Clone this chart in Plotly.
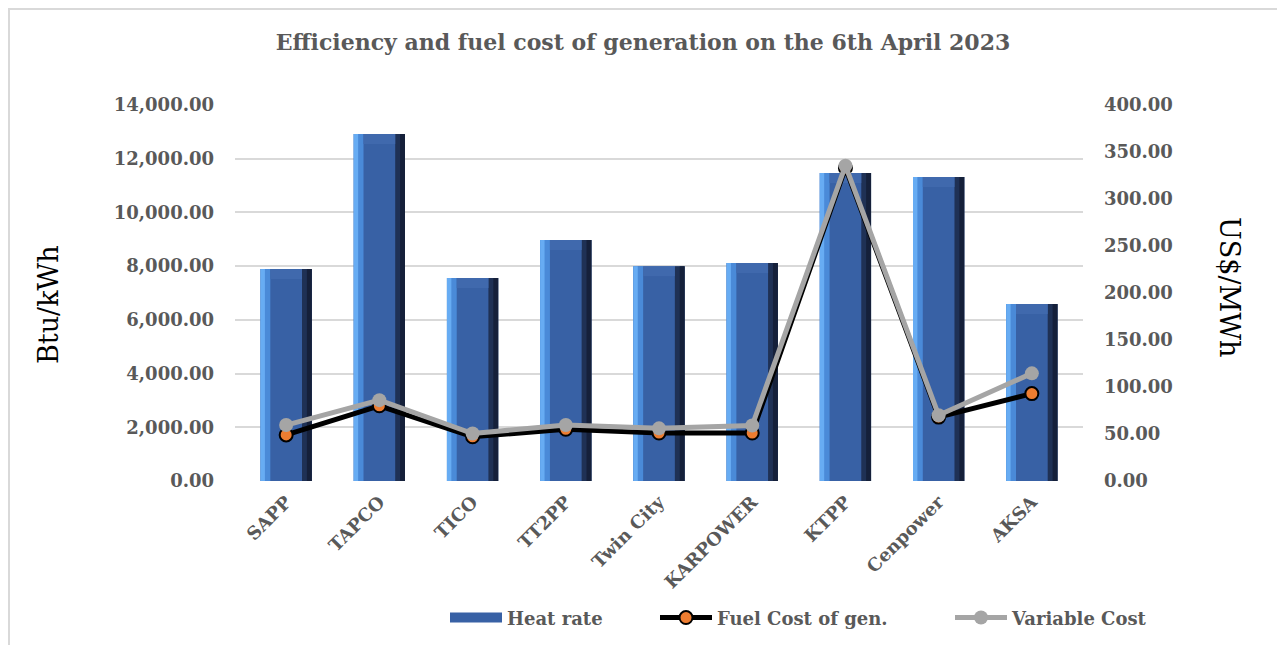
import plotly.graph_objects as go
from plotly.subplots import make_subplots

# ---- data ----
plants = ["SAPP", "TAPCO", "TICO", "TT2PP", "Twin City", "KARPOWER", "KTPP", "Cenpower", "AKSA"]
heat_rate = [7890, 12920, 7560, 8970, 8000, 8120, 11470, 11320, 6590]          # Btu/kWh
fuel_cost = [49.0, 80.0, 47.0, 55.0, 51.0, 51.0, 333.0, 68.0, 93.0]            # US$/MWh
variable_cost = [59.5, 86.0, 50.5, 59.5, 56.0, 59.0, 335.5, 70.0, 114.5]       # US$/MWh
left_ticks = [0, 2000, 4000, 6000, 8000, 10000, 12000, 14000]
right_ticks = [0, 50, 100, 150, 200, 250, 300, 350, 400]

GRAY = "#595959"
SERIF = "DejaVu Serif"
TICKFONT = dict(family=SERIF, size=18, color=GRAY, weight="bold")
LEGFONT = dict(family=SERIF, size=18, color=GRAY, weight="bold")

fig = make_subplots(specs=[[{"secondary_y": True}]])

W = 0.55       # bar width (category units)
S = 0.105      # bevel strip width
# base bar (medium blue)
fig.add_trace(go.Bar(x=plants, y=heat_rate, width=W, name="Heat rate",
                     marker=dict(color="#3861a5", line=dict(width=0)),
                     showlegend=False), secondary_y=False)
# left light strips (gradient)
fig.add_trace(go.Bar(x=plants, y=heat_rate, width=S, offset=-W / 2,
                     marker=dict(color="#4a8ad8", line=dict(width=0)),
                     showlegend=False, hoverinfo="skip"), secondary_y=False)
fig.add_trace(go.Bar(x=plants, y=heat_rate, width=S * 0.45, offset=-W / 2,
                     marker=dict(color="#67acf3", line=dict(width=0)),
                     showlegend=False, hoverinfo="skip"), secondary_y=False)
# right dark strips
fig.add_trace(go.Bar(x=plants, y=heat_rate, width=S, offset=W / 2 - S,
                     marker=dict(color="#1f3155", line=dict(width=0)),
                     showlegend=False, hoverinfo="skip"), secondary_y=False)
fig.add_trace(go.Bar(x=plants, y=heat_rate, width=S * 0.5, offset=W / 2 - S * 0.5,
                     marker=dict(color="#15203a", line=dict(width=0)),
                     showlegend=False, hoverinfo="skip"), secondary_y=False)
# top bevel (slightly lighter band)
bev = left_ticks[-1] * 10 / 376
fig.add_trace(go.Bar(x=plants, y=[bev] * len(plants), base=[v - bev for v in heat_rate],
                     width=W - 2 * S, offset=-W / 2 + S,
                     marker=dict(color="#4069ad", line=dict(width=0)),
                     showlegend=False, hoverinfo="skip"), secondary_y=False)

# legend entry for the bars (wide blue swatch)
fig.add_trace(go.Scatter(x=[None], y=[None], mode="lines", name="Heat rate",
                         line=dict(color="#3861a5", width=15), hoverinfo="skip",
                         legend="legend"),
              secondary_y=False)

# lines
fig.add_trace(go.Scatter(x=plants, y=fuel_cost, name="Fuel Cost of gen.", mode="lines+markers",
                         line=dict(color="black", width=5),
                         marker=dict(size=13, color="#ed7d31", line=dict(color="black", width=2)),
                         legend="legend2"),
              secondary_y=True)
fig.add_trace(go.Scatter(x=plants, y=variable_cost, name="Variable Cost", mode="lines+markers",
                         line=dict(color="#a5a5a5", width=5),
                         marker=dict(size=14, color="#a5a5a5"),
                         legend="legend3"),
              secondary_y=True)

def leg(px):
    return dict(orientation="h", x=(px - 240) / 848, xanchor="left", y=-0.364, yanchor="middle",
                font=LEGFONT, itemwidth=52, bgcolor="rgba(0,0,0,0)")

fig.update_layout(
    width=1277, height=637,
    margin=dict(l=227, r=202, t=97, b=164, autoexpand=False),
    paper_bgcolor="white", plot_bgcolor="white",
    barmode="overlay",
    title=dict(text="<b>Efficiency and fuel cost of generation on the 6th April 2023</b>",
               x=(643 - 8) / 1277, xanchor="center", y=1 - 34 / 637, yanchor="middle",
               font=dict(family=SERIF, size=22, color=GRAY)),
    legend=leg(450), legend2=leg(660), legend3=leg(955),
    showlegend=True,
)
fig.update_xaxes(domain=[0, 1], tickangle=-45,
                 tickfont=dict(family=SERIF, size=18, color=GRAY, weight="bold"),
                 showline=False, showgrid=False, ticks="", automargin=False,
                 ticklabelstandoff=6)
fig.update_yaxes(range=[0, 14000], tickvals=left_ticks, tickformat=",.2f",
                 tickfont=TICKFONT, showgrid=True, gridcolor="#d9d9d9", gridwidth=1.5,
                 zeroline=False, showline=False, ticklabelstandoff=20, automargin=False,
                 secondary_y=False)
fig.update_yaxes(range=[0, 400], tickvals=right_ticks, tickformat=",.2f",
                 tickfont=TICKFONT, showgrid=False, zeroline=False, showline=False,
                 ticklabelstandoff=20, automargin=False, secondary_y=True)

# axis titles
fig.add_annotation(text="Btu/kWh", xref="paper", yref="paper", x=(48 - 235) / 848,
                   y=(481 - 305) / 376,
                   textangle=-90, showarrow=False, xanchor="center", yanchor="middle",
                   font=dict(family=SERIF, size=27, color="black"))
fig.add_annotation(text="US$/MWh", xref="paper", yref="paper", x=(1230 - 235) / 848,
                   y=(481 - 287) / 376,
                   textangle=90, showarrow=False, xanchor="center", yanchor="middle",
                   font=dict(family=SERIF, size=27, color="black"))

# outer frame
fig.add_shape(type="rect", xref="paper", yref="paper",
              x0=(1 - 227) / 848, x1=(1272 - 227) / 848, y0=(473 - 660) / 376, y1=(473 - 1) / 376,
              line=dict(color="#d9d9d9", width=2), fillcolor="rgba(0,0,0,0)", layer="below")

fig.write_html("out.html")
